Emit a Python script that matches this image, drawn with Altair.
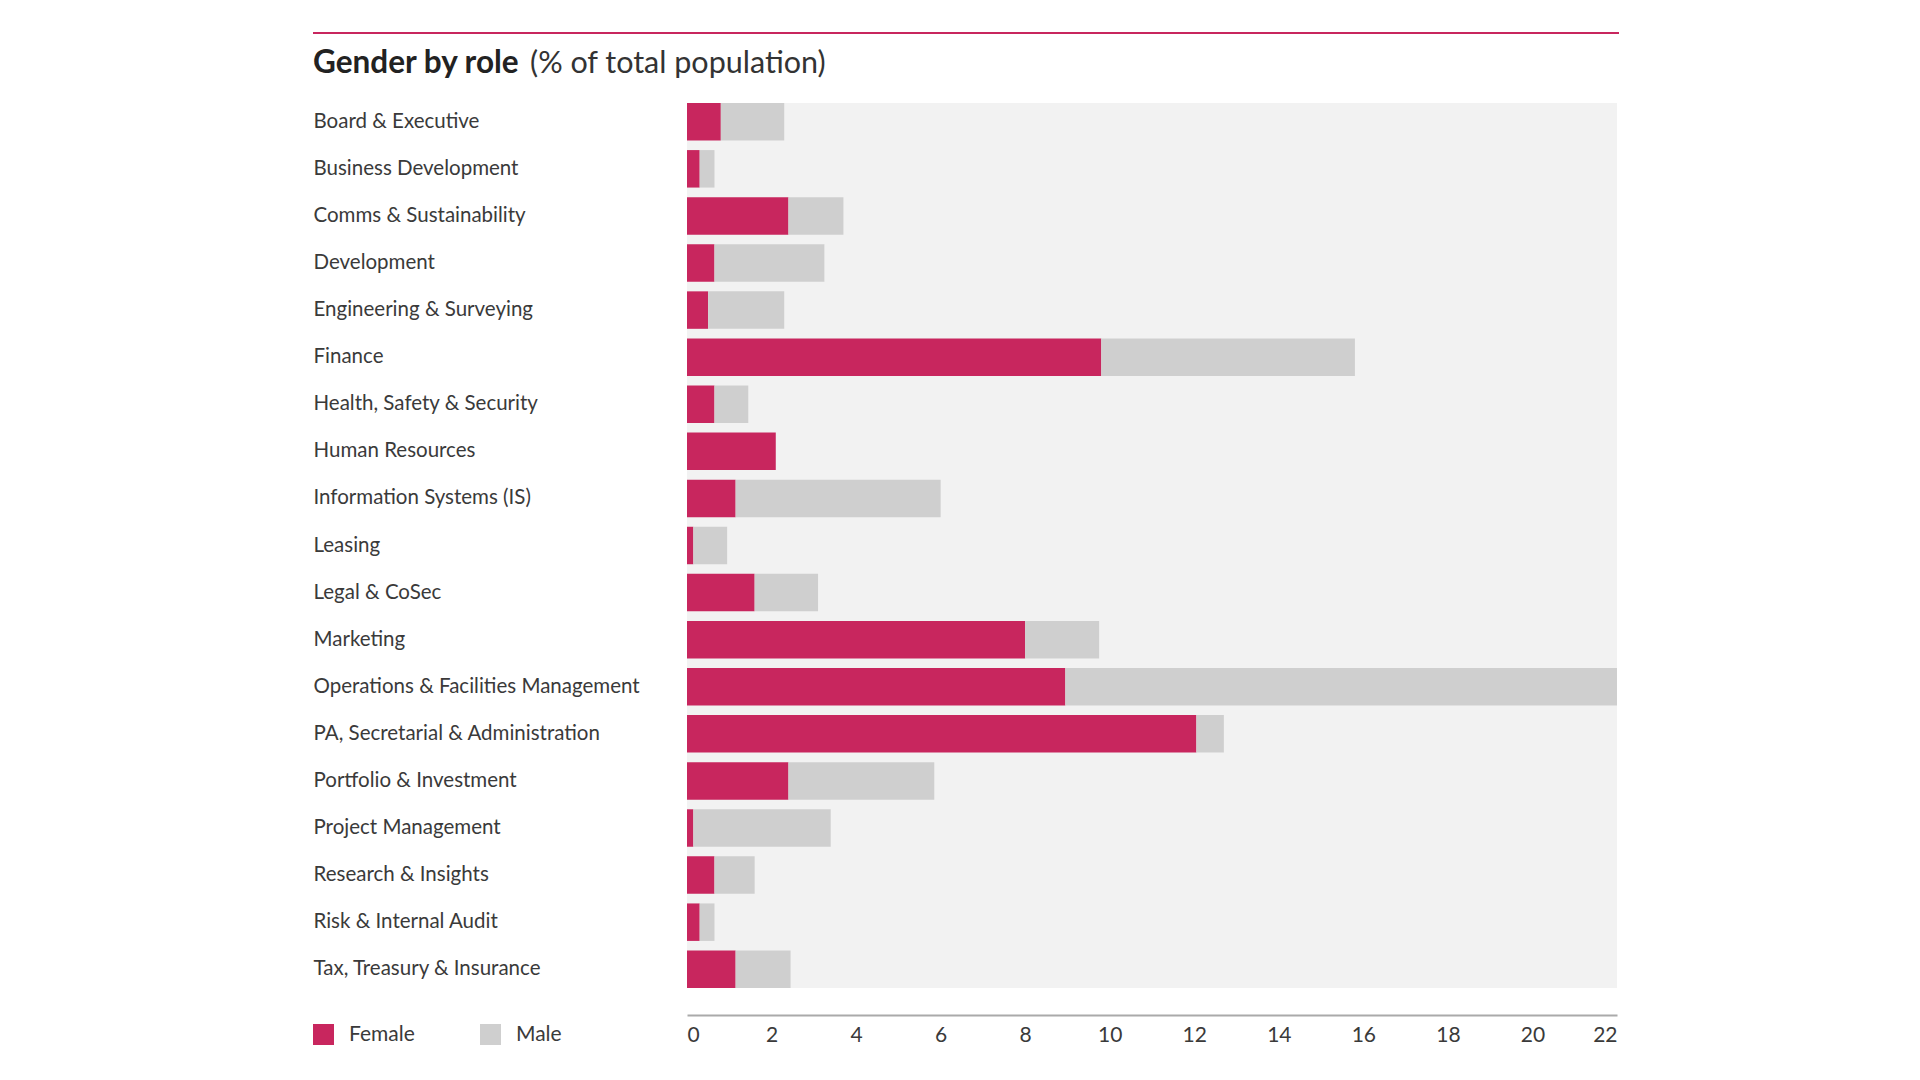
import altair as alt
import pandas as pd

categories = [
    "Board & Executive", "Business Development", "Comms & Sustainability",
    "Development", "Engineering & Surveying", "Finance",
    "Health, Safety & Security", "Human Resources", "Information Systems (IS)",
    "Leasing", "Legal & CoSec", "Marketing",
    "Operations & Facilities Management", "PA, Secretarial & Administration",
    "Portfolio & Investment", "Project Management", "Research & Insights",
    "Risk & Internal Audit", "Tax, Treasury & Insurance",
]
female = [0.8, 0.3, 2.4, 0.65, 0.5, 9.8, 0.65, 2.1, 1.15, 0.15, 1.6, 8.0,
          8.95, 12.05, 2.4, 0.15, 0.65, 0.3, 1.15]
male = [1.5, 0.35, 1.3, 2.6, 1.8, 6.0, 0.8, 0.0, 4.85, 0.8, 1.5, 1.75,
        13.05, 0.65, 3.45, 3.25, 0.95, 0.35, 1.3]
genders = ["Female", "Male"]
colors = ["#C8265E", "#CFCFCF"]
x_ticks = [0, 2, 4, 6, 8, 10, 12, 14, 16, 18, 20, 22]
title_main = "Gender by role"
title_sub = "(% of total population)"

rows = []
for c, f, m in zip(categories, female, male):
    rows.append({"role": c, "gender": "Female", "value": f, "ord": 0})
    rows.append({"role": c, "gender": "Male", "value": m, "ord": 1})
df = pd.DataFrame(rows)

FONT = "Lato"
TEXT = "#3a3a3a"

bars = alt.Chart(df).mark_bar().encode(
    y=alt.Y("role:N", sort=categories,
            scale=alt.Scale(paddingInner=0.204, paddingOuter=0),
            axis=alt.Axis(labelAlign="left", labelPadding=374, labelLimit=400,
                          labelFont=FONT, labelFontSize=20.5, labelColor=TEXT,
                          domain=False, ticks=False, tickSize=0, title=None)),
    x=alt.X("value:Q", stack="zero",
            scale=alt.Scale(domain=[0, 22], nice=False),
            axis=alt.Axis(values=x_ticks, offset=27, domainColor="#aaaaaa",
                          domainWidth=2, ticks=False, tickSize=0, grid=False,
                          labelFlush=True, labelFont=FONT, labelFontSize=21,
                          labelColor=TEXT, labelPadding=9, format="d",
                          title=None)),
    color=alt.Color("gender:N",
                    scale=alt.Scale(domain=genders, range=colors),
                    legend=alt.Legend(orient="none", legendX=-374, legendY=921,
                                      direction="horizontal", symbolType="square",
                                      symbolSize=441, symbolStrokeWidth=0,
                                      labelFont=FONT, labelFontSize=21,
                                      labelColor=TEXT, labelOffset=15,
                                      columnPadding=65, padding=0, title=None)),
    order=alt.Order("ord:Q", sort="ascending"),
)

rule = alt.Chart(pd.DataFrame({"r": [0]})).mark_rule(
    color="#C8265E", strokeWidth=2
).encode(x=alt.value(-374), x2=alt.value(932), y=alt.value(-70))

head = alt.Chart(pd.DataFrame({"t": [title_main]})).mark_text(
    align="left", baseline="alphabetic", font=FONT, fontSize=31.5,
    fontWeight="bold", color="#222222"
).encode(x=alt.value(-374), y=alt.value(-30), text="t:N")

sub = alt.Chart(pd.DataFrame({"t": [title_sub]})).mark_text(
    align="left", baseline="alphabetic", font=FONT, fontSize=30.5,
    color="#333333"
).encode(x=alt.value(-157), y=alt.value(-30), text="t:N")

chart = alt.layer(bars, rule, head, sub).properties(
    width=930, height=885,
    background="white",
    autosize=alt.AutoSizeParams(type="none"),
    padding={"left": 679, "top": 95, "right": 20, "bottom": 80},
).configure_view(fill="#F2F2F2", strokeWidth=0)

chart.save("out.html", embed_options={"renderer": "svg", "actions": False})
